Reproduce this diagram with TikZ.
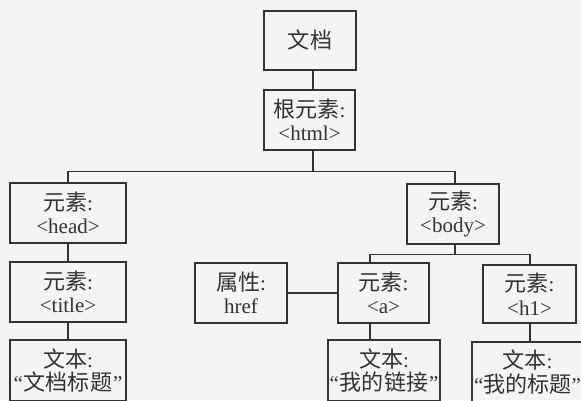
\documentclass[tikz,border=0pt]{standalone}
\usepackage{fontspec}
\setmainfont{Liberation Serif}
\newfontfamily\cjk{Noto Sans CJK SC}[Scale=1.05]
\usetikzlibrary{calc}
\definecolor{ink}{HTML}{333333}
\definecolor{paper}{HTML}{F4F4F2}
\begin{document}
\begin{tikzpicture}[x=1pt,y=-1pt,
  box/.style={draw=ink, line width=1.2pt, text=ink, align=center, inner sep=0pt,
    minimum width=#1, minimum height=60pt, font=\fontsize{21}{23.5}\selectfont},
  box/.default=92pt,
  link/.style={draw=ink, line width=1.2pt}]
\useasboundingbox (0,0) rectangle (581,400);
\fill[paper] (0,0) rectangle (581,400);
\clip (0,0) rectangle (581,400);
% nodes
\node[box, minimum height=59pt] (doc) at (310,40.5) {{\cjk 文档}};
\node[box, minimum width=91pt] (html) at (309.5,120) {{\cjk 根元素}:\\<html>};
\node[box=116pt] (head) at (68,213) {{\cjk 元素}:\\<head>};
\node[box=116pt] (title) at (68,292) {{\cjk 元素}:\\<title>};
\node[box=116pt, minimum height=61pt] (t1) at (68,370.5) {{\cjk 文本}:\\“\kern1pt{\cjk 文档标题}\kern1pt”};
\node[box] (href) at (241,293) {{\cjk 属性}:\\href};
\node[box] (body) at (453,214) {{\cjk 元素}:\\<body>};
\node[box, minimum width=91pt] (a) at (383.5,293) {{\cjk 元素}:\\<a>};
\node[box, minimum width=93pt, minimum height=58pt] (h1) at (529.5,294) {{\cjk 元素}:\\<h1>};
\node[box=112pt, minimum height=61pt] (ta) at (384,370.5) {{\cjk 文本}:\\“\kern1pt{\cjk 我的链接}\kern1pt”};
\node[box=111pt] (th1) at (527.5,372) {{\cjk 文本}:\\“{\cjk 我的标题}”};
% connectors
\coordinate (j1) at ($(html.south)+(3.5,21)$);
\draw[link] (j1 |- doc.south) -- (j1 |- html.north);
\draw[link] (j1 |- html.south) -- (j1);
\draw[link] (head.north) |- (j1) -| ($(body.north)+(2,0)$);
\draw[link] (head.south) -- (title.north);
\draw[link] (title.south) -- (t1.north);
\coordinate (j2) at ($(body.south)+(2,10)$);
\draw[link] (j2 |- body.south) -- (j2);
\coordinate (an) at ($(a.north)+(-13.5,0)$);
\coordinate (as) at ($(a.south)+(-13.5,0)$);
\draw[link] (an) |- (j2) -| ($(h1.north)+(0.5,0)$);
\draw[link] (as) -- (as |- ta.north);
\draw[link] ($(h1.south)+(0.5,0)$) -- ($(h1.south |- th1.north)+(0.5,0)$);
\draw[link] (href.east) -- (a.west);
\end{tikzpicture}
\end{document}
